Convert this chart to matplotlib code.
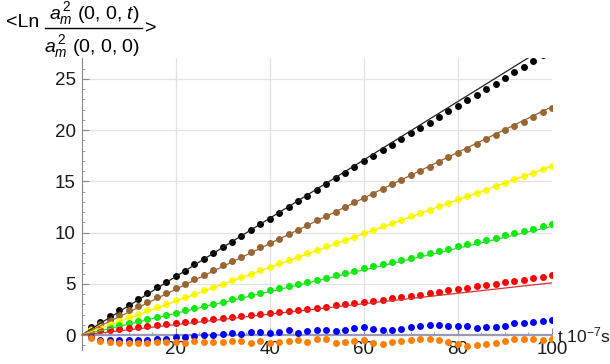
# %%
import numpy as np
import matplotlib.pyplot as plt

plt.rcParams['font.family'] = ['Liberation Sans', 'DejaVu Sans']
plt.rcParams['mathtext.fontset'] = 'custom'
plt.rcParams['mathtext.rm'] = 'Liberation Sans'
plt.rcParams['mathtext.it'] = 'Liberation Sans:italic'
plt.rcParams['mathtext.bf'] = 'Liberation Sans:bold'

# %% data (t in units of 1e-7 s)
t = np.arange(2, 101, 2)

black = [0.75, 1.3, 1.85, 2.4, 2.95, 3.5, 4.1, 4.65, 5.2, 5.75,
         6.3, 6.9, 7.45, 8.0, 8.55, 9.1, 9.7, 10.25, 10.8, 11.35,
         11.9, 12.5, 13.05, 13.6, 14.15, 14.7, 15.3, 15.85, 16.4, 16.95,
         17.5, 18.05, 18.6, 19.15, 19.7, 20.2, 20.75, 21.3, 21.85, 22.4,
         22.95, 23.45, 24.0, 24.55, 25.1, 25.65, 26.2, 26.75, 27.3, 27.85]
brown = [0.6, 1.05, 1.5, 1.95, 2.4, 2.8, 3.25, 3.7, 4.15, 4.6,
         5.0, 5.45, 5.9, 6.35, 6.8, 7.2, 7.65, 8.1, 8.55, 9.0,
         9.4, 9.85, 10.3, 10.75, 11.2, 11.6, 12.05, 12.5, 12.95, 13.4,
         13.8, 14.25, 14.7, 15.15, 15.6, 16.0, 16.45, 16.9, 17.35, 17.8,
         18.2, 18.65, 19.1, 19.55, 20.0, 20.4, 20.85, 21.3, 21.75, 22.2]
yellow = [0.45, 0.75, 1.1, 1.4, 1.75, 2.05, 2.4, 2.7, 3.05, 3.4,
          3.7, 4.05, 4.35, 4.7, 5.0, 5.35, 5.7, 6.0, 6.35, 6.65,
          7.0, 7.3, 7.65, 8.0, 8.3, 8.65, 8.95, 9.3, 9.6, 9.95,
          10.3, 10.6, 10.95, 11.25, 11.6, 11.9, 12.25, 12.6, 12.9, 13.25,
          13.55, 13.9, 14.2, 14.55, 14.85, 15.2, 15.5, 15.85, 16.2, 16.5]
green = [0.3, 0.5, 0.75, 0.95, 1.15, 1.35, 1.6, 1.8, 2.0, 2.2,
         2.45, 2.65, 2.85, 3.05, 3.25, 3.5, 3.7, 3.9, 4.1, 4.35,
         4.55, 4.75, 5.0, 5.2, 5.4, 5.6, 5.85, 6.05, 6.25, 6.5,
         6.7, 6.9, 7.15, 7.35, 7.55, 7.8, 8.0, 8.2, 8.45, 8.65,
         8.85, 9.1, 9.3, 9.5, 9.75, 9.95, 10.15, 10.4, 10.6, 10.85]
red = [0.3, 0.45, 0.5, 0.6, 0.7, 0.8, 0.9, 1.0, 1.1, 1.2,
       1.3, 1.35, 1.45, 1.55, 1.65, 1.75, 1.85, 1.95, 2.05, 2.15,
       2.25, 2.35, 2.45, 2.55, 2.65, 2.75, 2.9, 3.0, 3.1, 3.25,
       3.35, 3.45, 3.6, 3.7, 3.85, 3.95, 4.1, 4.2, 4.35, 4.5,
       4.6, 4.75, 4.9, 5.0, 5.15, 5.25, 5.4, 5.55, 5.7, 5.85]
blue = [-0.2, -0.5, -0.5, -0.5, -0.5, -0.5, -0.45, -0.4, -0.35, -0.2,
        -0.15, -0.1, 0.0, 0.05, 0.1, 0.2, 0.1, 0.3, 0.25, 0.2,
        0.3, 0.45, 0.2, 0.4, 0.5, 0.45, 0.35, 0.5, 0.65, 0.75,
        0.6, 0.5, 0.5, 0.55, 0.75, 0.85, 1.0, 1.0, 0.9, 0.9,
        0.85, 0.7, 0.75, 0.75, 0.85, 1.2, 1.2, 1.25, 1.4, 1.45]
orange = [-0.3, -0.6, -0.7, -0.75, -0.75, -0.75, -0.75, -0.7, -0.7, -0.7,
          -0.75, -0.6, -0.7, -0.7, -0.65, -0.6, -0.55, -0.8, -0.6, -0.8,
          -0.7, -0.55, -0.45, -0.7, -0.4, -0.4, -0.8, -0.7, -0.55, -0.45,
          -0.8, -0.9, -0.7, -0.6, -0.5, -0.35, -0.4, -0.5, -0.7, -0.9,
          -1.1, -1.0, -0.85, -0.75, -0.6, -0.35, -0.4, -0.4, -0.5, -0.4]

# fitted slopes of the straight lines
fit_slopes = [0.285, 0.223, 0.165, 0.106, 0.051]
fit_colors = ['#222222', '#996633', '#f0f000', '#33dd33', '#d83030']

series = [black, brown, yellow, green, red, blue, orange]
dot_colors = ['#000000', '#996633', '#ffff00', '#00ee00', '#ff0000', '#0000ff', '#ff8000']

# %%
fig = plt.figure(figsize=(6.1, 3.64), dpi=100)
ax = fig.add_axes([81.5 / 610, 1 - 350 / 364, (552 - 81.5) / 610, (350 - 58) / 364])

for y, c in zip(series, dot_colors):
    ax.plot(t, y, 'o', color=c, ms=5, mew=0, zorder=3)

tt = np.array([0, 100])
for k, c in zip(fit_slopes, fit_colors):
    ax.plot(tt, k * tt, color=c, lw=0.9, zorder=4)

ax.set_xlim(0, 100)
ax.set_ylim(-1.46, 27.05)

for s in ['top', 'right']:
    ax.spines[s].set_visible(False)
ax.spines['left'].set_position(('data', 0))
ax.spines['bottom'].set_position(('data', 0))
ax.spines['left'].set_color('#888888')
ax.spines['bottom'].set_color('#9a9ab8')
ax.spines['bottom'].set_linewidth(1.6)
ax.spines['bottom'].set_zorder(2)

ax.set_xticks([20, 40, 60, 80, 100])
ax.set_xticks(np.arange(5, 100, 5), minor=True)
ax.set_yticks([0, 5, 10, 15, 20, 25])
ax.set_yticks(np.arange(-1, 27, 1), minor=True)
ax.tick_params(which='both', direction='in', color='#888888', labelsize=13.5,
               labelcolor='#1a1a1a')
ax.tick_params(which='major', length=5, width=0.8, pad=4)
ax.tick_params(which='minor', length=2.5, width=0.6)

for v in [20, 40, 60, 80]:
    ax.axvline(v, color='#e2e2e2', lw=0.9, zorder=0)
for v in [5, 10, 15, 20, 25]:
    ax.axhline(v, color='#e2e2e2', lw=0.9, zorder=0)

ax.text(101.0, 0, 't 10$^{-7}$s', fontsize=12.5, va='center', ha='left',
        color='#1a1a1a', clip_on=False)

# y label as a fraction above the axis
H = 364
fs = 14
fig.text(6 / 610, 1 - 27 / H, '<Ln', fontsize=fs, va='baseline', ha='left')
fig.text(94 / 610, 1 - 19 / H, r'$a_m^{\,2}$ (0, 0, $t$)', fontsize=fs,
         va='baseline', ha='center')
fig.text(92 / 610, 1 - 52 / H, r'$a_m^{\,2}$ (0, 0, 0)', fontsize=fs,
         va='baseline', ha='center')
fig.add_artist(plt.Line2D([45 / 610, 142 / 610], [1 - 28 / H, 1 - 28 / H],
                          color='black', lw=1))
fig.text(145 / 610, 1 - 29 / H, '>', fontsize=fs, va='center', ha='left')

plt.savefig('out.png', dpi=100)
